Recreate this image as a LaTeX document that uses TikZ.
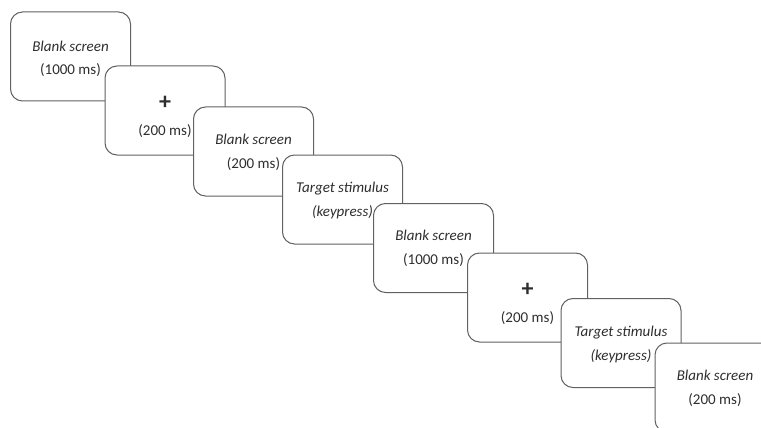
\documentclass[tikz,border=0pt]{standalone}
\usepackage{fontspec}
\setmainfont{Carlito}
\begin{document}
\begin{tikzpicture}[x=1pt,y=-1pt,
  screen/.style={draw=black!62, line width=1pt, fill=white, rounded corners=12pt,
    minimum width=120pt, minimum height=89pt, inner sep=0pt},
  caption/.style={inner sep=0pt, align=center,
    font=\fontsize{15}{23.5}\selectfont, text=black!82},
  plustext/.style={inner sep=0pt, font=\fontsize{24}{24}\bfseries\selectfont, text=black!82}
]
\useasboundingbox (0,0) rectangle (761,428);
\clip (0,0) rectangle (761,428);
\node[screen] (s1) at (70.5,56.5) {};
\node[caption] (t1) at ([yshift=-2.5pt]s1.center) {\textit{Blank screen}\\(1000 ms)};
\node[screen] (s2) at (165,110.5) {};
\node[plustext] (p2) at ([yshift=7.5pt]s2.center) {+};
\node[caption] (t2) at ([yshift=-20.5pt]s2.center) {(200 ms)};
\node[screen] (s3) at (253.5,151.5) {};
\node[caption] (t3) at ([yshift=-1pt]s3.center) {\textit{Blank screen}\\(200 ms)};
\node[screen] (s4) at (342.5,199.5) {};
\node[caption] (t4) at ([yshift=-1pt]s4.center) {\textit{Target stimulus}\\\textit{(keypress)}};
\node[screen] (s5) at (433.5,248) {};
\node[caption] (t5) at ([yshift=-0.5pt]s5.center) {\textit{Blank screen}\\(1000 ms)};
\node[screen] (s6) at (527.5,297.5) {};
\node[plustext] (p6) at ([yshift=7.5pt]s6.center) {+};
\node[caption] (t6) at ([yshift=-20.5pt]s6.center) {(200 ms)};
\node[screen] (s7) at (621,343) {};
\node[caption] (t7) at ([yshift=-1.5pt]s7.center) {\textit{Target stimulus}\\\textit{(keypress)}};
\node[screen] (s8) at (715,387.5) {};
\node[caption] (t8) at ([yshift=-1pt]s8.center) {\textit{Blank screen}\\(200 ms)};
\end{tikzpicture}
\end{document}
